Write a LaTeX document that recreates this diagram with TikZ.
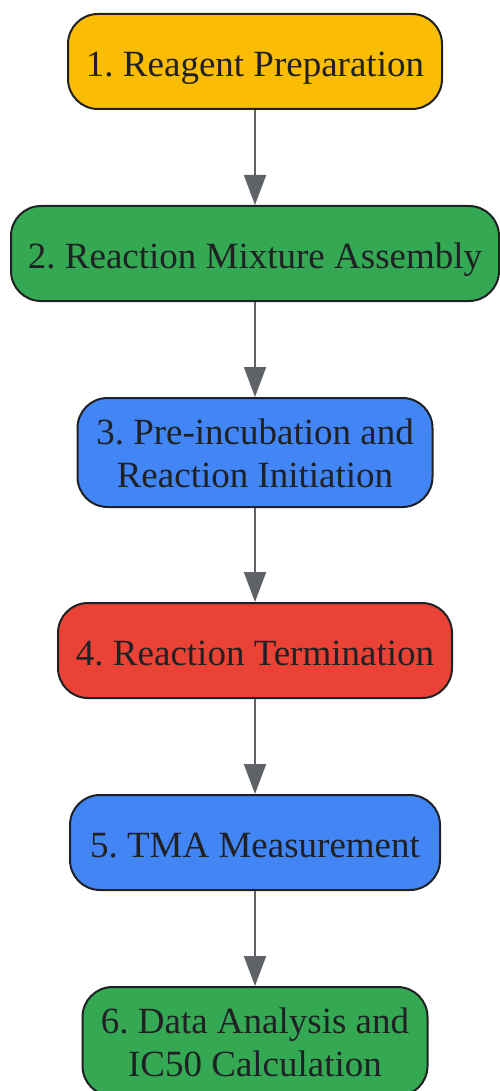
\documentclass[tikz,border=0pt]{standalone}
\usepackage{fontspec}
\setmainfont{Liberation Serif}
\usetikzlibrary{arrows.meta}

\definecolor{stepyellow}{HTML}{FBBC04}
\definecolor{stepgreen}{HTML}{34A853}
\definecolor{stepblue}{HTML}{4285F4}
\definecolor{stepred}{HTML}{EA4335}
\definecolor{edgegray}{HTML}{5F6368}
\definecolor{inkdark}{HTML}{202124}

\begin{document}
\frenchspacing
\begin{tikzpicture}[x = 1pt, y = -1pt,
                        stepbox/.style = {rectangle, rounded corners = 30pt, draw = inkdark, line width = 2pt,
                                          text = inkdark, inner sep = 0pt, text height = 30pt, text depth = 0pt,
                                          font = \fontsize{37}{43}\selectfont, minimum height = 95pt},
                        twoline/.style = {align = center, minimum height = 109pt, text height = 70pt, text depth = 0pt},
                        flow/.style = {draw = edgegray, line width = 2pt, -{Triangle[width = 22pt, length = 30pt]}}]
      \useasboundingbox (0, 0) rectangle (499, 1091);
      \node [stepbox, fill = stepyellow, minimum width = 374pt] (s1) at (255, 61.5){1. Reagent Preparation};
      \node [stepbox, fill = stepgreen, minimum width = 488pt] (s2) at (255, 253.5){2. Reaction Mixture Assembly};
      \node [stepbox, twoline, fill = stepblue, minimum width = 355pt] (s3) at (255, 452.5){3. Pre-incubation and\\Reaction Initiation};
      \node [stepbox, fill = stepred, minimum width = 394pt] (s4) at (255, 650.5){4. Reaction Termination};
      \node [stepbox, fill = stepblue, minimum width = 370pt] (s5) at (255, 842.5){5. TMA Measurement};
      \node [stepbox, twoline, fill = stepgreen, minimum width = 345pt] (s6) at (255, 1041.5){6. Data Analysis and\\IC50 Calculation};
      \draw [flow] (s1) -- (s2);
      \draw [flow] (s2) -- (s3);
      \draw [flow] (s3) -- (s4);
      \draw [flow] (s4) -- (s5);
      \draw [flow] (s5) -- (s6);
    \end{tikzpicture}
\end{document}
